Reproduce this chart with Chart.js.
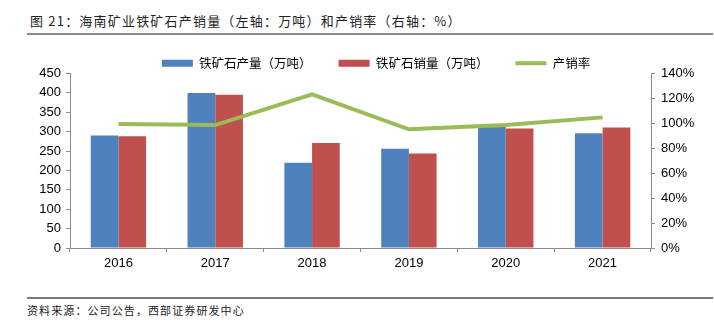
<!DOCTYPE html>
<html>
<head>
<meta charset="utf-8">
<script src="https://cdn.jsdelivr.net/npm/chart.js@4"></script>
<style>
  html, body { margin: 0; padding: 0; background: #fff; width: 714px; height: 328px; overflow: hidden; }
  .title { position: absolute; left: 30px; top: 11px; font: 13px "Noto Sans CJK SC", sans-serif; letter-spacing: 1.2px; color: #222; white-space: nowrap; }
  .rule-top { position: absolute; left: 27px; right: 1px; top: 33px; height: 2px; background: #8a8a8a; }
  .rule-bottom { position: absolute; left: 27px; right: 1px; top: 297px; height: 2px; background: #7a7a7a; }
  .source { position: absolute; left: 27px; top: 302px; font: 11px "Noto Sans CJK SC", sans-serif; letter-spacing: 1.1px; color: #222; white-space: nowrap; }
  #chart { position: absolute; left: 0; top: 24px; }
</style>
</head>
<body>
<div class="title">图 21：海南矿业铁矿石产销量（左轴：万吨）和产销率（右轴：%）</div>
<div class="rule-top"></div>
<canvas id="chart" width="752" height="266"></canvas>
<div class="rule-bottom"></div>
<div class="source">资料来源：公司公告，西部证券研发中心</div>
<script>
const years = ["2016", "2017", "2018", "2019", "2020", "2021"];
const production = [290, 400, 220, 256, 312, 296]; // 铁矿石产量（万吨）
const sales = [288, 395, 271, 244, 308, 311]; // 铁矿石销量（万吨）
const rate = [99.4, 98.6, 123.2, 95.2, 98.6, 104.8]; // 产销率 %

const axisGray = "#8c8c8c";
const tickFont = { family: "'Liberation Sans', Arial, sans-serif", size: 13 };

// nudge the legend row down a little, closer to the plot
const legendShift = {
  id: "legendShift",
  afterLayout(chart) {
    chart.legend.top += 6;
    chart.legend.bottom += 6;
  },
};

new Chart(document.getElementById("chart").getContext("2d"), {
  data: {
    labels: years,
    datasets: [
      {
        type: "line",
        label: "产销率",
        data: rate,
        yAxisID: "y1",
        borderColor: "#9BBB59",
        backgroundColor: "#9BBB59",
        borderWidth: 4,
        pointRadius: 0,
        tension: 0,
        fill: false,
        order: 0,
      },
      {
        type: "bar",
        label: "铁矿石产量（万吨）",
        data: production,
        yAxisID: "y",
        backgroundColor: "#4F81BD",
        barPercentage: 1,
        categoryPercentage: 0.572,
        order: 1,
      },
      {
        type: "bar",
        label: "铁矿石销量（万吨）",
        data: sales,
        yAxisID: "y",
        backgroundColor: "#C0504D",
        barPercentage: 1,
        categoryPercentage: 0.572,
        order: 1,
      },
    ],
  },
  options: {
    responsive: false,
    animation: false,
    layout: { padding: 0 },
    plugins: {
      tooltip: { enabled: false },
      legend: {
        position: "top",
        align: "center",
        labels: {
          padding: 27,
          usePointStyle: true,
          pointStyleWidth: 31,
          boxHeight: 7,
          color: "#000",
          font: { family: "'Noto Sans CJK SC', sans-serif", size: 12.5 },
          // bars first, then the line, each with its own swatch shape
          generateLabels(chart) {
            const order = [1, 2, 0];
            return order.map((i) => {
              const ds = chart.data.datasets[i];
              const isLine = ds.type === "line";
              return {
                text: ds.label,
                datasetIndex: i,
                fillStyle: ds.backgroundColor,
                strokeStyle: isLine ? ds.borderColor : ds.backgroundColor,
                lineWidth: isLine ? 4 : 0,
                pointStyle: isLine ? "line" : "rect",
                hidden: false,
              };
            });
          },
        },
      },
    },
    scales: {
      x: {
        grid: { display: true, drawOnChartArea: false, offset: true, tickLength: 4, color: axisGray },
        border: { display: true, color: axisGray },
        ticks: { color: "#000", font: tickFont, padding: 4 },
        afterFit(scale) { scale.height = 42; },
      },
      y: {
        position: "left",
        min: 0,
        max: 450,
        grid: { display: true, drawOnChartArea: false, tickLength: 4, color: axisGray },
        border: { display: true, color: axisGray },
        ticks: { stepSize: 50, color: "#000", font: tickFont, padding: 5 },
        afterFit(scale) { scale.width = 70; },
      },
      y1: {
        position: "right",
        min: 0,
        max: 140,
        grid: { display: true, drawOnChartArea: false, tickLength: 4, color: axisGray },
        border: { display: true, color: axisGray },
        ticks: {
          stepSize: 20,
          color: "#000",
          font: tickFont,
          padding: 6,
          callback: (v) => v + "%",
        },
        afterFit(scale) { scale.width = 101; },
      },
    },
  },
  plugins: [legendShift],
});
</script>
</body>
</html>
